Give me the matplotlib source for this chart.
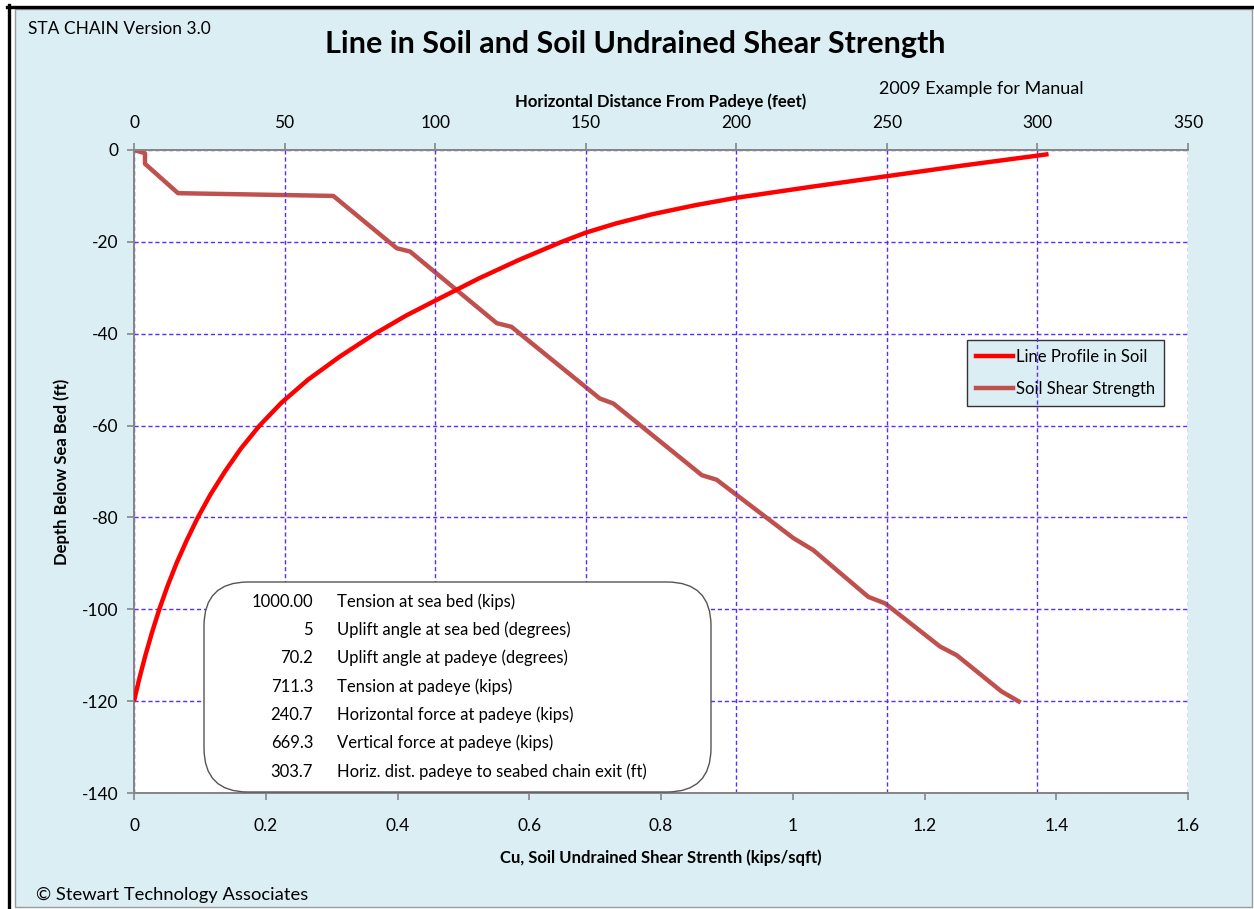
import matplotlib
matplotlib.use("Agg")
import matplotlib.pyplot as plt
from matplotlib.patches import Rectangle, FancyBboxPatch
from matplotlib.lines import Line2D

# ---------------- data ----------------
# Soil shear strength profile (bottom axis: Cu kips/sqft)
cu_values = [0, 0.0167, 0.0167, 0.0668, 0.3026, 0.399, 0.419, 0.5506, 0.573, 0.707,
             0.7277, 0.862, 0.8845, 1.0009, 1.031, 1.1147, 1.140, 1.2235, 1.2489,
             1.317, 1.346]
cu_depth = [0, -0.7, -3.0, -9.4, -10.0, -21.4, -22.1, -37.7, -38.5, -54.1,
            -55.2, -70.8, -71.8, -84.5, -87.1, -97.3, -98.7, -108.1, -110.0,
            -117.9, -120.3]

# Line profile in soil (top axis: horizontal distance from padeye, ft)
line_dist = [303.7, 275, 250, 225, 200, 186.5, 172, 160, 150, 142, 127.6, 114.4,
             101.5, 90.5, 80.0, 68.3, 57.8, 49.0, 41.7, 35.5, 30.2, 25.4, 21.2,
             17.5, 14.1, 11.1, 8.4, 6.0, 3.8, 1.8, 0]
line_depth = [-0.9, -3.4, -5.7, -8.0, -10.4, -12, -14, -16, -18, -20, -24, -28,
              -32.3, -36, -40, -45, -50, -55, -60, -65, -70, -75, -80, -85, -90,
              -95, -100, -105, -110, -115, -120]

top_ticks = [0, 50, 100, 150, 200, 250, 300, 350]
bottom_ticks = [0, 0.2, 0.4, 0.6, 0.8, 1.0, 1.2, 1.4, 1.6]
bottom_tick_labels = ["0", "0.2", "0.4", "0.6", "0.8", "1", "1.2", "1.4", "1.6"]
y_ticks = [0, -20, -40, -60, -80, -100, -120, -140]

info_values = ["1000.00", "5", "70.2", "711.3", "240.7", "669.3", "303.7"]
info_labels = ["Tension at sea bed (kips)",
               "Uplift angle at sea bed (degrees)",
               "Uplift angle at padeye (degrees)",
               "Tension at padeye (kips)",
               "Horizontal force at padeye (kips)",
               "Vertical force at padeye (kips)",
               "Horiz. dist. padeye to seabed chain exit (ft)"]

# ---------------- style ----------------
FONT = "Lato"
plt.rcParams["font.family"] = [FONT, "DejaVu Sans"]
W, H = 1254, 909
BG = "#DBEEF4"
GRID = "#5A2DFF"
AXC = "#868686"
RED = "#FF0000"
BROWN = "#C0504D"
FS = 12.5


def fx(x):
    return x / W


def fy(y):
    return 1 - y / H


fig = plt.figure(figsize=(W / 100, H / 100), dpi=100, facecolor="white")

# background panels
fig.patches.append(Rectangle((fx(15), fy(907)), fx(1252) - fx(15), fy(9) - fy(907),
                             transform=fig.transFigure, facecolor=BG,
                             edgecolor="#9a9a9a", linewidth=1, zorder=-5))
fig.lines.append(Line2D([fx(8.5), fx(8.5)], [fy(5), fy(909)], transform=fig.transFigure,
                        color="black", linewidth=2.4, zorder=-4))
fig.lines.append(Line2D([fx(7), fx(1254)], [fy(6.5), fy(6.5)], transform=fig.transFigure,
                        color="black", linewidth=2.4, zorder=-4))

L, R, T, B = 134, 1188, 150, 793
ax = fig.add_axes([fx(L), fy(B), fx(R) - fx(L), fy(T) - fy(B)])
ax.set_facecolor("white")
ax.set_xlim(0, 1.6)
ax.set_ylim(-140, 0)
ax2 = ax.twiny()
ax2.set_xlim(0, 350)

# grid
ax.set_yticks(y_ticks)
ax.yaxis.grid(True, linestyle=(0, (3, 2)), color=GRID, linewidth=1.0)
ax2.set_xticks(top_ticks)
ax2.xaxis.grid(True, linestyle=(0, (3, 2)), color=GRID, linewidth=1.0)
ax.set_axisbelow(True)
ax2.set_axisbelow(True)

# data
ax.plot(cu_values, cu_depth, color=BROWN, linewidth=3.2, solid_capstyle="butt",
        solid_joinstyle="round", zorder=3)
ax2.plot(line_dist, line_depth, color=RED, linewidth=3.2, solid_capstyle="butt",
         solid_joinstyle="round", zorder=4)

# axes appearance
for a in (ax, ax2):
    a.spines["right"].set_visible(False)
    for s in ("left", "top", "bottom"):
        a.spines[s].set_color(AXC)
        a.spines[s].set_linewidth(1.3)
ax.set_xticks(bottom_ticks)
ax.set_xticklabels(bottom_tick_labels)
ax.set_yticklabels([str(v) for v in y_ticks])
ax.tick_params(axis="both", colors=AXC, labelcolor="black", labelsize=FS,
               length=5, width=1.2, direction="out")
ax.tick_params(axis="x", pad=13)
ax.tick_params(axis="y", pad=6)
ax2.tick_params(axis="x", colors=AXC, labelcolor="black", labelsize=FS,
                length=5, width=1.2, direction="out", pad=8.5)

ax.set_xlabel("Cu, Soil Undrained Shear Strenth (kips/sqft)", fontsize=12,
              fontweight="bold", labelpad=11)
ax2.set_xlabel("Horizontal Distance From Padeye (feet)", fontsize=12,
               fontweight="bold", labelpad=6)
ax.set_ylabel("Depth Below Sea Bed (ft)", fontsize=12, fontweight="bold", labelpad=9)

# texts
fig.text(fx(28), fy(29), "STA CHAIN Version 3.0", fontsize=12.5, va="center", ha="left")
fig.text(fx(635), fy(44), "Line in Soil and Soil Undrained Shear Strength", fontsize=22,
         fontweight="bold", va="center", ha="center")
fig.text(fx(879), fy(89), "2009 Example for Manual", fontsize=13, va="center", ha="left")
fig.text(fx(36), fy(895), "\u00a9 Stewart Technology Associates", fontsize=13.2,
         va="center", ha="left")

# legend
handles = [Line2D([], [], color=RED, linewidth=3.2),
           Line2D([], [], color=BROWN, linewidth=3.2)]
leg = ax.legend(handles, ["Line Profile in Soil", "Soil Shear Strength"],
                loc="upper left", bbox_to_anchor=(fx(967), fy(340)),
                bbox_transform=fig.transFigure, fontsize=12, frameon=True,
                fancybox=False, facecolor=BG, edgecolor="#333333", framealpha=1,
                handlelength=2.2, handletextpad=0.2, borderpad=0.55,
                labelspacing=0.95, borderaxespad=0)
leg.get_frame().set_linewidth(1.0)
leg.set_zorder(10)

# info box
box = FancyBboxPatch((fx(204), fy(792)), fx(711) - fx(204), fy(582) - fy(792),
                     boxstyle="round,pad=0,rounding_size=0.035",
                     transform=fig.transFigure, facecolor="white",
                     edgecolor="#555555", linewidth=1.0, zorder=5,
                     mutation_aspect=W / H)
fig.patches.append(box)
row_y = [602, 630, 658, 687, 715, 743, 772]
for v, lab, yy in zip(info_values, info_labels, row_y):
    fig.text(fx(313), fy(yy), v, fontsize=12, ha="right", va="center", zorder=6)
    fig.text(fx(337), fy(yy), lab, fontsize=12, ha="left", va="center", zorder=6)

fig.savefig("out.png", dpi=100, facecolor="white")
